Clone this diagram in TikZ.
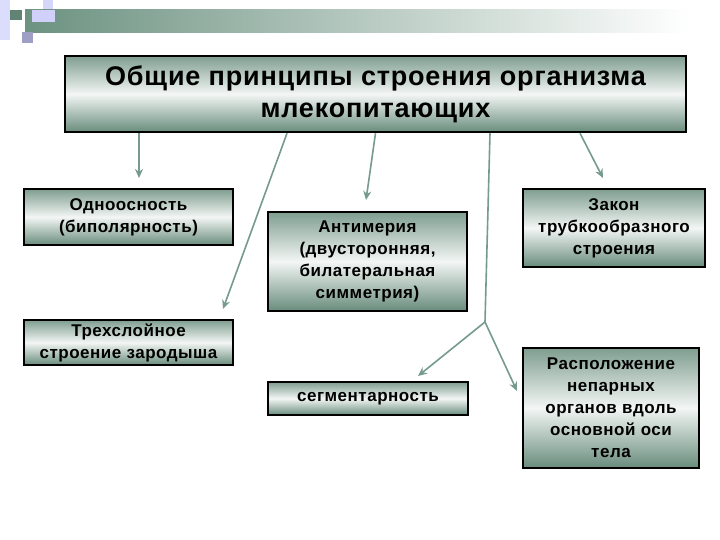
\documentclass[tikz,border=0pt]{standalone}
\usepackage{fontspec}
\setmainfont{Liberation Sans}[LetterSpace=3]
\usetikzlibrary{arrows.meta}
\definecolor{boxgreen}{RGB}{104,140,124}
\definecolor{arrowgreen}{RGB}{118,154,142}
\definecolor{bannergreen}{RGB}{108,146,128}
\definecolor{lavender}{RGB}{196,196,250}
\tikzset{
  principle/.style={draw=black, line width=2.5pt, align=center, font=\bfseries\fontsize{17}{22}\selectfont,
    top color=boxgreen!85, bottom color=boxgreen, middle color=white!92!boxgreen, inner sep=0pt},
  arr/.style={draw=arrowgreen, line width=1.6pt, -{Stealth[length=9pt,width=8pt]}}
}
\begin{document}
\begin{tikzpicture}[x=1pt, y=-1pt]
    \useasboundingbox[fill=white] (0,0) rectangle (720,540);

    % corner decoration and banner
    \fill[lavender!60] (0,0) rectangle (10,40);
    \fill[lavender!70] (43,0) rectangle (53,10);
    \shade[left color=bannergreen, right color=white] (25,10) rectangle (690,33);
    \fill[lavender!80] (32,10) rectangle (55,22);
    \fill[bannergreen!90!black] (10,10) rectangle (22,20);
    \fill[blue!25!gray!60] (22,32) rectangle (33,43);

    % boxes
    \node[principle, minimum width=621pt, minimum height=76pt, font=\bfseries\fontsize{27}{32}\selectfont] (title) at (375.5,94)
        {Общие принципы строения организма\\млекопитающих};
    \node[principle, minimum width=209pt, minimum height=56pt] (odno) at (128.5,217) {Одноосность\\(биполярность)};
    \node[principle, minimum width=209pt, minimum height=45pt] (trekh) at (128.5,342.5) {Трехслойное\\строение зародыша};
    \node[principle, minimum width=199pt, minimum height=99pt] (anti) at (367.5,261.5)
        {Антимерия\\(двусторонняя,\\билатеральная\\симметрия)};
    \node[principle, minimum width=200pt, minimum height=33pt] (segm) at (368,398.5) {сегментарность};
    \node[principle, minimum width=182pt, minimum height=78pt] (zakon) at (614,228) {Закон\\трубкообразного\\строения};
    \node[principle, minimum width=176pt, minimum height=120pt] (rasp) at (611,408)
        {Расположение\\непарных\\органов вдоль\\основной оси\\тела};

    % arrow tips and branch point
    \coordinate (tip1) at (139,178);
    \coordinate (tip2) at (223,309);
    \coordinate (tip3) at (366,200);
    \coordinate (fork) at (485,322);
    \coordinate (tip4) at (418,376);
    \coordinate (tip5) at (517,391);
    \coordinate (tip6) at (603,178);

    % connectors
    \draw[arr] ([xshift=-236.5pt]title.south) -- (tip1);
    \draw[arr] ([xshift=-88.5pt]title.south) -- (tip2);
    \draw[arr] (title.south) -- (tip3);
    \draw[draw=arrowgreen, line width=1.6pt] ([xshift=114.5pt]title.south) -- (fork);
    \draw[arr] (fork) -- (tip4);
    \draw[arr] (fork) -- (tip5);
    \draw[arr] ([xshift=204.5pt]title.south) -- (tip6);
\end{tikzpicture}
\end{document}
